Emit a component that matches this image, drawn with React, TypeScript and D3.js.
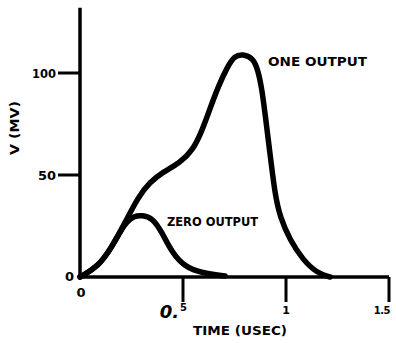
import * as d3 from 'd3';

// curve values (time in usec, V in mV)
const oneTime = [0, 0.087, 0.155, 0.218, 0.282, 0.34, 0.403, 0.485, 0.549, 0.592, 0.631, 0.67, 0.714, 0.752, 0.791, 0.84, 0.864, 0.883, 0.898, 0.922, 0.947, 0.971, 1.019, 1.083, 1.15, 1.214];
const oneVolt = [0, 4.9, 14.7, 26.5, 39.2, 46.6, 51.5, 55.9, 62.3, 71.6, 82.5, 93.1, 102.8, 108.6, 109.2, 107.4, 101.5, 92.1, 80.4, 60.8, 40.2, 29.4, 18.1, 8.3, 2, 0];
const zeroTime = [0, 0.087, 0.155, 0.218, 0.262, 0.301, 0.35, 0.398, 0.447, 0.51, 0.592, 0.704];
const zeroVolt = [0, 4.9, 14.7, 26.5, 30, 30.2, 29.2, 22, 11.8, 4.9, 2, 0.5];
const yTicks = [0, 50, 100];
const xTicks = [0, 0.5, 1, 1.5];

const W = 396, H = 343;
const font = "'DejaVu Sans', sans-serif";

export default function App() {
  const x = d3.scaleLinear().domain([0, 1.5]).range([80, 389]);
  const y = d3.scaleLinear().domain([0, 100]).range([277, 73]);

  const line = d3.line<[number, number]>()
    .x(d => x(d[0]))
    .y(d => y(d[1]))
    .curve(d3.curveBasis);

  const one = oneTime.map((t, i) => [t, oneVolt[i]] as [number, number]);
  const zero = zeroTime.map((t, i) => [t, zeroVolt[i]] as [number, number]);

  return (
    <svg width={W} height={H} style={{ position: 'absolute', left: 0, top: 0, background: '#fff' }}>
      {/* axes */}
      <line x1={x(0)} x2={x(0)} y1={y(0) + 2} y2={y(132)} stroke="#000" strokeWidth={3.5} />
      <line x1={x(0) - 2} x2={x(1.5)} y1={y(0)} y2={y(0)} stroke="#000" strokeWidth={3.5} />

      {yTicks.filter(v => v > 0).map(v => (
        <line key={'yt' + v} x1={x(0) - 22} x2={x(0)} y1={y(v)} y2={y(v)} stroke="#000" strokeWidth={3} />
      ))}
      {xTicks.filter(v => v > 0).map(v => (
        <line key={'xt' + v} x1={x(v)} x2={x(v)} y1={y(0)} y2={y(0) + 25} stroke="#000" strokeWidth={3} />
      ))}

      {/* y tick labels */}
      <text x={x(0) - 24} y={y(100) + 4.5} textAnchor="end" fontFamily={font} fontWeight="bold" fontSize={13} textLength={24} lengthAdjust="spacingAndGlyphs">100</text>
      <text x={x(0) - 24} y={y(50) + 4.5} textAnchor="end" fontFamily={font} fontWeight="bold" fontSize={13} textLength={18} lengthAdjust="spacingAndGlyphs">50</text>
      <text x={x(0) - 6} y={y(0) + 4} textAnchor="end" fontFamily={font} fontWeight="bold" fontSize={13}>0</text>

      {/* x tick labels */}
      <text x={x(0) + 1} y={y(0) + 20} textAnchor="middle" fontFamily={font} fontWeight="bold" fontSize={13}>0</text>
      <text x={x(0.5) - 4} y={y(0) + 41} textAnchor="end" fontFamily={font} fontWeight="bold" fontSize={18} fontStyle="italic">0.</text>
      <text x={x(0.5) - 3} y={y(0) + 34} textAnchor="start" fontFamily={font} fontWeight="bold" fontSize={10}>5</text>
      <text x={x(1)} y={y(0) + 37} textAnchor="middle" fontFamily={font} fontWeight="bold" fontSize={11}>1</text>
      <text x={390} y={y(0) + 37} textAnchor="end" fontFamily={font} fontWeight="bold" fontSize={10} letterSpacing={-0.5}>1.5</text>

      {/* axis titles */}
      <text x={240} y={335} textAnchor="middle" fontFamily={font} fontWeight="bold" fontSize={12} textLength={94} lengthAdjust="spacingAndGlyphs">TIME (USEC)</text>
      <text transform="translate(19,128) rotate(-90)" textAnchor="middle" fontFamily={font} fontWeight="bold" fontSize={12} textLength={54} lengthAdjust="spacingAndGlyphs">V (MV)</text>

      {/* curves */}
      <path d={line(zero) ?? ''} fill="none" stroke="#000" strokeWidth={5.5} strokeLinejoin="round" strokeLinecap="round" />
      <path d={line(one) ?? ''} fill="none" stroke="#000" strokeWidth={5.5} strokeLinejoin="round" strokeLinecap="round" />

      {/* curve labels */}
      <text x={268} y={66} fontFamily={font} fontWeight="bold" fontSize={12} textLength={99} lengthAdjust="spacingAndGlyphs">ONE OUTPUT</text>
      <text x={167} y={226} fontFamily={font} fontWeight="bold" fontSize={12} textLength={91} lengthAdjust="spacingAndGlyphs">ZERO OUTPUT</text>
    </svg>
  );
}
